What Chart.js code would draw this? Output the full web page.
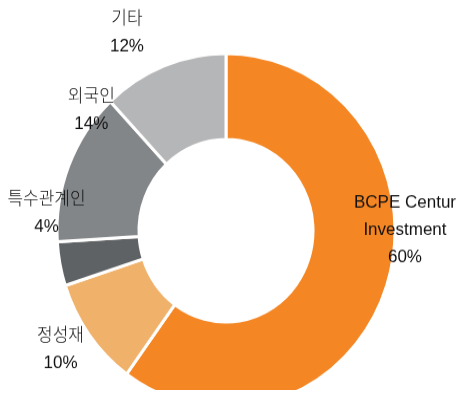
<!DOCTYPE html>
<html>
<head>
<meta charset="utf-8">
<script src="https://cdn.jsdelivr.net/npm/chart.js@4"></script>
<style>
  html, body { margin: 0; padding: 0; background: #fff; overflow: hidden; }
  #wrap {
    position: relative;
    width: 460px;
    height: 390px;
    transform: scaleY(1.0487);
    transform-origin: 0 0;
  }
</style>
</head>
<body>
<div id="wrap"><canvas id="shareChart"></canvas></div>
<script>
// shareholder structure, clockwise from 12 o'clock
const holders = ['BCPE Centur Investment', '정성재', '특수관계인', '외국인', '기타'];
const shares = [60, 10, 4, 14, 12];
const labelLines = [
  ['BCPE Centur', 'Investment'],
  ['정성재'],
  ['특수관계인'],
  ['외국인'],
  ['기타']
];

const sliceColors = ['#F48623', '#F0B26B', '#5F6264', '#838688', '#B5B6B8'];
// label block centres, as fractions of the outer radius from the chart centre
const labelOffsets = [
  [1.059, -0.004],
  [-0.979, 0.669],
  [-1.062, -0.101],
  [-0.797, -0.680],
  [-0.586, -1.115]
];

const sliceLabels = {
  id: 'sliceLabels',
  afterDatasetsDraw(chart) {
    const ctx = chart.ctx;
    const meta = chart.getDatasetMeta(0);
    const lineGap = 26;
    ctx.save();
    ctx.font = '300 17px "Liberation Sans", "Noto Sans CJK KR", sans-serif';
    ctx.fillStyle = '#111111';
    ctx.textAlign = 'center';
    ctx.textBaseline = 'middle';
    meta.data.forEach((arc, i) => {
      const r = arc.outerRadius;
      const cx = arc.x + labelOffsets[i][0] * r;
      const cy = arc.y + labelOffsets[i][1] * r;
      const lines = labelLines[i].concat([shares[i] + '%']);
      const top = cy - (lines.length - 1) * lineGap / 2;
      lines.forEach((t, j) => ctx.fillText(t, cx, top + j * lineGap));
    });
    ctx.restore();
  }
};

new Chart(document.getElementById('shareChart'), {
  type: 'doughnut',
  data: {
    labels: holders,
    datasets: [{
      data: shares,
      backgroundColor: sliceColors,
      borderColor: '#ffffff',
      borderWidth: 3
    }]
  },
  options: {
    responsive: true,
    maintainAspectRatio: false,
    animation: false,
    radius: 169,
    cutout: '51.5%',
    rotation: 0,
    layout: { padding: { left: 50, right: 58, top: 50, bottom: 0 } },
    plugins: {
      legend: { display: false },
      tooltip: { enabled: false }
    }
  },
  plugins: [sliceLabels]
});
</script>
</body>
</html>
